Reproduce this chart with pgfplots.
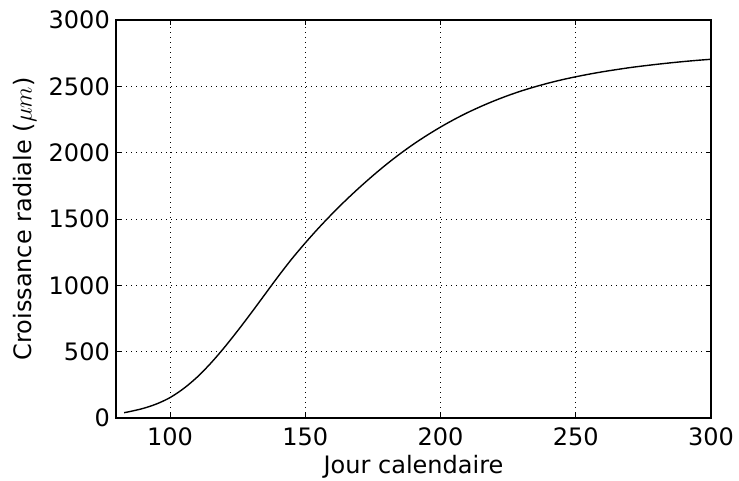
\documentclass[border=0pt]{standalone}
\usepackage{pgfplots}
\pgfplotsset{compat=1.18}
\usepackage{fontspec}
\setmainfont{DejaVu Sans}

% Radial growth over the calendar year
\pgfplotstableread{
x y
83 40
85 48
90 72
95 106
100 154
105 222
110 308
115 412
120 530
125 658
130 792
135 930
140 1068
145 1199
150 1320
155 1434
160 1541
165 1642
170 1737
175 1827
180 1912
185 1991
190 2064
195 2131
200 2193
205 2250
210 2302
215 2349
220 2392
225 2431
230 2466
235 2497
240 2525
245 2550
250 2572
255 2592
260 2610
265 2626
270 2641
275 2654
280 2666
285 2677
290 2687
295 2696
300 2704
}\growth

\begin{document}
\fontsize{24}{29}\selectfont
\begin{tikzpicture}
\path[use as bounding box] (0,0) rectangle (739pt,481pt);
\begin{axis}[
  at={(116pt,63pt)}, anchor=south west,
  scale only axis,
  width=595pt, height=398pt,
  xmin=80, xmax=300, ymin=0, ymax=3000,
  xtick={100,150,...,300},
  ytick={0,500,...,3000},
  /pgf/number format/assume math mode=true,
  /pgf/number format/set thousands separator={},
  tick label style={font=\fontsize{24}{29}\selectfont},
  label style={font=\fontsize{24}{29}\selectfont},
  xticklabel style={inner sep=0pt, yshift=-9pt},
  yticklabel style={inner sep=0pt, xshift=-6pt},
  tick align=inside,
  major tick length=5pt,
  tick style={black, line width=0.8pt},
  axis line style={black, line width=1.2pt},
  grid=major,
  major grid style={black, line width=0.9pt, dash pattern=on 1pt off 4pt},
  xlabel={Jour calendaire},
  ylabel={Croissance radiale ($\mu m$)},
  xlabel style={at={(axis description cs:0.5,-0.123)}, anchor=center},
  ylabel style={at={(axis description cs:-0.153,0.5)}, anchor=center},
]
\addplot[black, line width=1.4pt, smooth] table[x=x, y=y] {\growth};
\end{axis}
\end{tikzpicture}
\end{document}
